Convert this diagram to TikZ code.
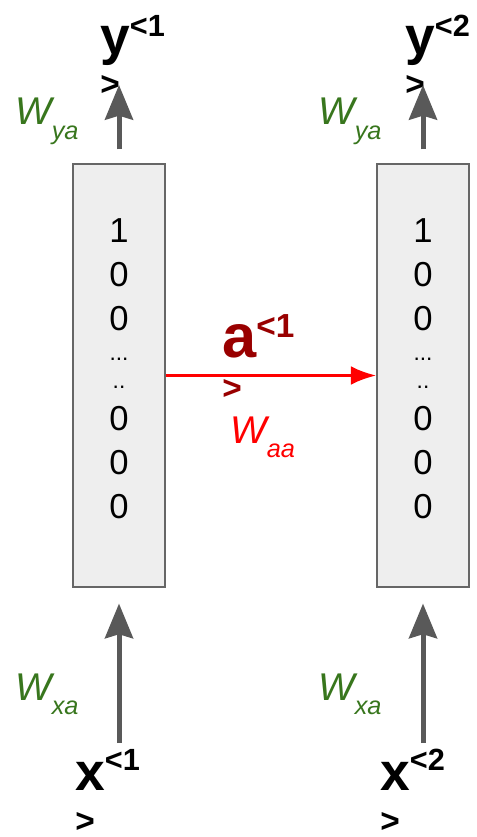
\documentclass[tikz,border=0pt]{standalone}
\usepackage{fontspec}
\setmainfont{Liberation Sans}
\usepackage{tikz}
\usetikzlibrary{positioning,arrows.meta,calc}

\definecolor{cellfill}{HTML}{EEEEEE}
\definecolor{celldraw}{HTML}{666666}
\definecolor{arrgray}{HTML}{595959}
\definecolor{wgreen}{HTML}{38761D}
\definecolor{wred}{HTML}{FF0000}
\definecolor{adark}{HTML}{990000}

\begin{document}
\begin{tikzpicture}[
  x=0.75pt, y=-0.75pt,
  cell/.style={draw=celldraw, fill=cellfill, line width=1.1pt,
               minimum width=69pt, minimum height=317pt, inner sep=0pt},
  col/.style={align=center, inner sep=0pt,
              font=\fontsize{26}{33}\selectfont},
  lbl/.style={anchor=base west, align=left, inner sep=0pt,
              font=\bfseries\fontsize{40}{31}\selectfont},
  wlbl/.style={anchor=base west, inner sep=0pt,
               font=\itshape\fontsize{29}{34}\selectfont},
  uparr/.style={-{Stealth[length=26pt, width=21pt, inset=3pt]},
                line width=3.75pt, color=arrgray},
  rarr/.style={-{Latex[length=19pt, width=14pt]}, line width=2.2pt, color=wred},
]
\useasboundingbox (0,0) rectangle (477,837);

% hidden states
\node[cell] (h1) at (119,375.5) {};
\node[cell] (h2) at (423,375.5) {};
\node[col] (c1) at (119,368.5)
  {1\\0\\0\\[-10.5pt]{\fontsize{17}{21}\selectfont ...}\\[-12pt]%
   {\fontsize{17}{21}\selectfont ..}\\[-1.5pt]0\\0\\0};
\node[col] (c2) at (423,368.5)
  {1\\0\\0\\[-10.5pt]{\fontsize{17}{21}\selectfont ...}\\[-12pt]%
   {\fontsize{17}{21}\selectfont ..}\\[-1.5pt]0\\0\\0};

% outputs and inputs (base = baseline of the wrapped ">")
\node[lbl] (y1) at (100,96)
  {y\raisebox{13.5pt}{\fontsize{23}{31}\selectfont <1}\\{\fontsize{25}{31}\selectfont >}};
\node[lbl] (y2) at (405,96)
  {y\raisebox{13.5pt}{\fontsize{23}{31}\selectfont <2}\\{\fontsize{25}{31}\selectfont >}};
\node[lbl] (x1) at (75,832)
  {x\raisebox{15pt}{\fontsize{23}{31}\selectfont <1}\\{\fontsize{25}{31}\selectfont >}};
\node[lbl] (x2) at (380,832)
  {x\raisebox{15pt}{\fontsize{23}{31}\selectfont <2}\\{\fontsize{25}{31}\selectfont >}};
\node[lbl, text=adark, font=\bfseries\fontsize{46}{31}\selectfont] (a1) at (222,399)
  {a\raisebox{15pt}{\fontsize{25}{31}\selectfont <1}\\{\fontsize{25}{31}\selectfont >}};

% weights
\node[wlbl, text=wgreen] (wya1) at (15,125) {W\raisebox{-11pt}{\fontsize{19}{22}\selectfont ya}};
\node[wlbl, text=wgreen] (wya2) at (318,125) {W\raisebox{-11pt}{\fontsize{19}{22}\selectfont ya}};
\node[wlbl, text=wgreen] (wxa1) at (15,700) {W\raisebox{-11pt}{\fontsize{19}{22}\selectfont xa}};
\node[wlbl, text=wgreen] (wxa2) at (318,700) {W\raisebox{-11pt}{\fontsize{19}{22}\selectfont xa}};
\node[wlbl, text=wred] (waa) at (230,443) {W\raisebox{-11pt}{\fontsize{19}{22}\selectfont aa}};

% arrow ends
\coordinate (t1) at (119,85);
\coordinate (t2) at (423,85);
\coordinate (b1) at (119,743);
\coordinate (b2) at (423,743);

\draw[uparr, shorten <=10.5pt] (h1.north) -- (t1);
\draw[uparr, shorten <=10.5pt] (h2.north) -- (t2);
\draw[uparr, shorten >=12pt] (b1) -- (h1.south);
\draw[uparr, shorten >=12pt] (b2) -- (h2.south);
\draw[rarr] (h1.east) -- (h2.west);
\end{tikzpicture}
\end{document}
